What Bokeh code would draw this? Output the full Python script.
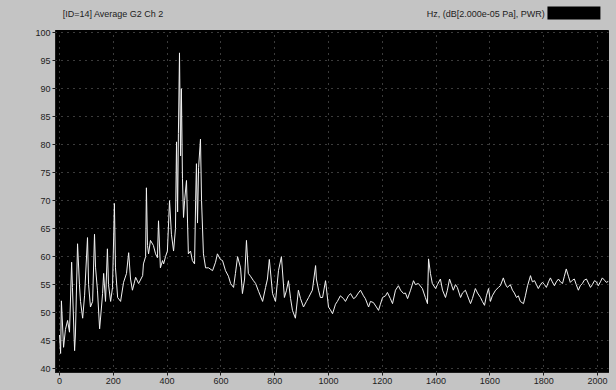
from bokeh.plotting import figure
from bokeh.layouts import column
from bokeh.models import Range1d, FixedTicker
from bokeh.core.properties import value
from bokeh.embed import file_html
from bokeh.resources import INLINE

# Averaged power spectrum, channel 2 (frequency in Hz, level in dB re 2e-5 Pa)
freq_hz = [
    0, 4, 7, 15, 22, 30, 37, 45, 48, 56, 59, 67, 74, 78, 86, 93, 104, 108, 115, 123,
    130, 134, 141, 149, 156, 160, 164, 171, 178, 182, 190, 197, 204, 208, 216, 227, 238, 249, 257, 264,
    271, 283, 294, 309, 312, 320, 323, 327, 331, 338, 349, 357, 364, 368, 375, 383, 387, 394, 401, 409,
    416, 424, 431, 435, 439, 442, 446, 450, 453, 457, 461, 465, 472, 476, 479, 487, 494, 502, 506, 509,
    513, 517, 524, 528, 535, 543, 554, 569, 580, 587, 598, 606, 617, 628, 636, 647, 654, 662, 673, 680,
    688, 695, 702, 710, 721, 729, 740, 755, 766, 773, 780, 792, 803, 814, 825, 836, 844, 851, 859, 866,
    877, 888, 896, 907, 918, 926, 940, 952, 955, 963, 970, 978, 989, 1000, 1007, 1015, 1026, 1033, 1044, 1056,
    1063, 1074, 1082, 1093, 1100, 1111, 1119, 1130, 1137, 1149, 1156, 1167, 1178, 1186, 1193, 1201, 1212, 1219, 1230, 1238,
    1249, 1260, 1268, 1279, 1286, 1294, 1305, 1316, 1323, 1334, 1349, 1360, 1368, 1372, 1379, 1386, 1398, 1405, 1416, 1424,
    1435, 1442, 1450, 1457, 1464, 1472, 1479, 1491, 1498, 1509, 1517, 1528, 1535, 1546, 1554, 1565, 1572, 1580, 1587, 1595,
    1602, 1609, 1621, 1632, 1639, 1650, 1658, 1665, 1676, 1684, 1691, 1699, 1706, 1713, 1725, 1732, 1740, 1751, 1758, 1766,
    1773, 1780, 1788, 1795, 1803, 1810, 1818, 1825, 1832, 1840, 1847, 1855, 1862, 1870, 1877, 1884, 1892, 1899, 1907, 1914,
    1921, 1929, 1936, 1944, 1951, 1959, 1966, 1974, 1981, 1989, 1996, 2003, 2011, 2018, 2026, 2033, 2041,
]
level_db = [
    46.0, 42.7, 52.1, 43.8, 47.0, 48.6, 46.5, 59.0, 54.5, 43.2, 46.0, 62.3, 55.0, 52.0, 49.0, 53.0, 63.4, 55.0, 51.0, 52.0,
    64.0, 58.0, 54.0, 47.1, 51.0, 53.4, 57.0, 52.0, 61.4, 55.0, 52.0, 54.5, 69.5, 58.0, 52.7, 52.0, 55.4, 57.0, 60.7, 56.0,
    54.0, 56.3, 55.2, 56.6, 58.7, 60.0, 72.3, 62.0, 60.5, 62.9, 62.0, 60.5, 59.8, 66.4, 58.0, 59.3, 58.7, 60.0, 61.0, 70.0,
    64.0, 61.0, 65.0, 80.5, 68.0, 82.0, 96.4, 78.0, 90.0, 74.0, 67.0, 70.0, 73.6, 66.0, 60.5, 61.0, 59.3, 58.7, 70.0, 76.6,
    66.0, 75.9, 81.0, 70.0, 60.5, 58.0, 58.0, 57.5, 59.0, 60.5, 59.5, 59.3, 57.5, 56.5, 55.2, 54.5, 57.0, 60.0, 58.0, 53.4,
    56.0, 62.9, 57.0, 56.5, 55.7, 55.2, 53.8, 52.0, 54.5, 56.0, 59.5, 53.4, 52.0, 57.5, 60.0, 52.7, 54.0, 55.7, 52.5, 50.4,
    49.0, 54.0, 52.5, 51.0, 52.0, 52.7, 54.0, 58.4, 56.0, 54.0, 52.7, 52.7, 55.7, 51.0, 50.5, 49.8, 51.5, 52.0, 53.0, 52.5,
    52.0, 53.0, 53.4, 52.5, 52.7, 53.5, 54.0, 53.0, 52.5, 51.0, 52.0, 51.8, 51.0, 50.4, 51.5, 52.7, 53.0, 53.6, 52.5, 51.6,
    54.0, 54.8, 54.0, 53.4, 53.5, 52.5, 54.0, 55.7, 55.0, 55.2, 54.3, 52.7, 51.6, 59.6, 57.0, 55.2, 54.3, 55.0, 56.0, 54.0,
    52.7, 54.0, 56.0, 55.0, 54.0, 55.0, 54.5, 52.7, 53.5, 54.0, 53.0, 51.6, 52.5, 54.3, 53.5, 52.7, 52.0, 51.3, 53.0, 54.3,
    52.0, 53.0, 54.0, 54.5, 54.8, 56.2, 55.0, 54.5, 55.0, 54.0, 53.5, 52.7, 53.0, 52.0, 51.6, 53.0, 54.8, 56.6, 55.5, 55.7,
    55.0, 54.3, 55.0, 55.4, 55.0, 54.5, 55.5, 56.2, 55.5, 54.8, 55.5, 56.0, 55.5, 55.2, 56.5, 57.8, 56.5, 55.4, 55.8, 56.0,
    55.0, 54.0, 54.8, 55.2, 55.8, 56.0, 55.3, 54.5, 55.0, 55.7, 55.5, 54.8, 55.5, 56.2, 55.8, 55.4, 55.6,
]

x_ticks = [0, 200, 400, 600, 800, 1000, 1200, 1400, 1600, 1800, 2000]
y_ticks = [40, 45, 50, 55, 60, 65, 70, 75, 80, 85, 90, 95, 100]

title_text = "[ID=14] Average G2 Ch  2"
units_text = "Hz, (dB[2.000e-05 Pa], PWR)"

FONT = "Liberation Sans"
INK = "#1c1c1c"
PANEL = "#c4c4c4"
W = 616
HEAD_H = 28

# --- header strip: title on the left, units and legend swatch on the right
head = figure(
    width=W, height=HEAD_H, output_backend="svg", toolbar_location=None,
    x_range=Range1d(0, W), y_range=Range1d(HEAD_H, 0),
    min_border=0, x_axis_type=None, y_axis_type=None,
)
head.background_fill_color = PANEL
head.border_fill_color = PANEL
head.outline_line_color = None
head.grid.visible = False
head.text(x=[8], y=[13], text=[title_text], text_font=value(FONT), text_font_size="9px",
          text_color=INK, text_align="left", text_baseline="middle")
head.text(x=[545], y=[13], text=[units_text], text_font=value(FONT), text_font_size="9px",
          text_color=INK, text_align="right", text_baseline="middle")
head.quad(left=[548], right=[607], top=[6], bottom=[19], fill_color="#000000", line_color=None)

# --- spectrum plot
p = figure(
    width=W, height=390 - HEAD_H,
    output_backend="svg", toolbar_location=None,
    x_range=Range1d(-15, 2041), y_range=Range1d(39.3, 100.4),
    min_border_left=55, min_border_right=8, min_border_top=2, min_border_bottom=18,
)
p.background_fill_color = "#000000"
p.border_fill_color = PANEL
p.outline_line_color = "#000000"

# dotted grid every 200 Hz / 5 dB
for g in (p.xgrid, p.ygrid):
    g.grid_line_color = "#767676"
    g.grid_line_dash = "1 5"
    g.grid_line_width = 1
p.xgrid.ticker = FixedTicker(ticks=x_ticks)
p.ygrid.ticker = FixedTicker(ticks=y_ticks)

for ax in (p.xaxis[0], p.yaxis[0]):
    ax.axis_line_color = INK
    ax.major_tick_line_color = INK
    ax.minor_tick_line_color = None
    ax.major_tick_out = 3
    ax.major_tick_in = 0
    ax.major_label_text_font = FONT
    ax.major_label_text_font_size = "9px"
    ax.major_label_text_color = INK
    ax.major_label_standoff = 2
p.xaxis[0].ticker = FixedTicker(ticks=x_ticks)
p.yaxis[0].ticker = FixedTicker(ticks=y_ticks)

p.line(freq_hz, level_db, line_color="#f2f2f2", line_width=1)

layout = column(head, p, spacing=0, styles={"background-color": PANEL})
html = file_html(layout, INLINE)
# grey page behind the two stacked canvases so no seam shows between them
html = html.replace("<head>", "<head><style>html,body{margin:0;background:%s;}</style>" % PANEL, 1)
open("out.html", "w").write(html)
